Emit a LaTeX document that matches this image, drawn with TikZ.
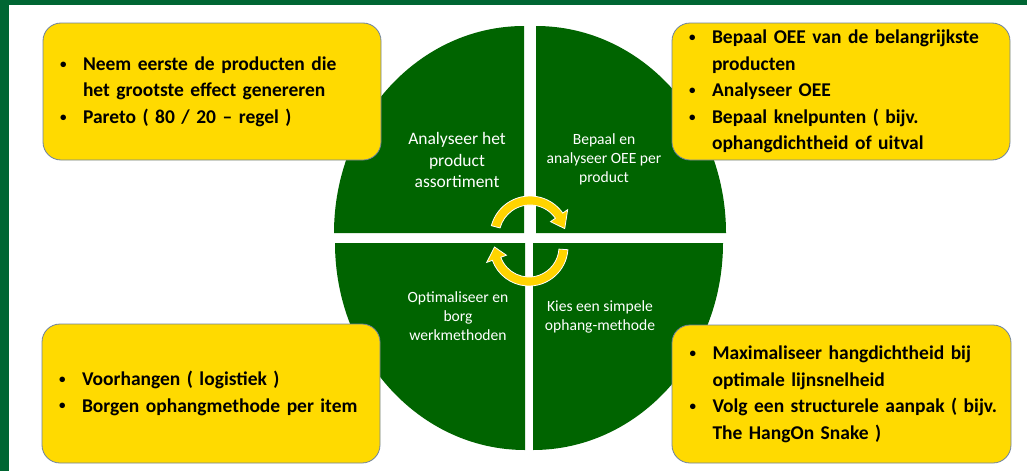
\documentclass[tikz,border=0pt]{standalone}
\usepackage{fontspec}
\setmainfont{Carlito}

\definecolor{framegreen}{RGB}{0,102,51}
\definecolor{quadgreen}{RGB}{0,100,0}
\definecolor{boxyellow}{RGB}{255,218,0}
\definecolor{arrowyellow}{RGB}{255,212,0}
\definecolor{boxline}{RGB}{110,130,160}

% small bullet with a hanging gap before the item text
\newcommand{\blt}{\makebox[23pt][l]{\raisebox{2.2pt}{\fontsize{13}{13}\selectfont\textbullet}}}

\tikzset{
  infobox/.style={draw=boxline, line width=0.8pt, fill=boxyellow, rounded corners=18pt,
    minimum width=338pt, minimum height=137pt, text width=304pt, align=left, inner sep=0pt,
    font=\fontsize{19.5}{26.5}\selectfont\bfseries},
  quadtext/.style={text=white, align=center, font=\fontsize{15.6}{19}\selectfont},
  quad/.style={fill=quadgreen},
  cyclearrow/.style={fill=arrowyellow, draw=white, line width=0.8pt}
}

\begin{document}
\begin{tikzpicture}[x=1pt,y=1pt,yscale=-1,xscale=1]
\useasboundingbox (0,0) rectangle (1027,471);

%Frame
\fill[framegreen] (0,0) rectangle (9,471);
\fill[framegreen] (0,0) rectangle (1027,5);

%Shape: Sector top left
\fill[quad] (524,233) -- ++(-190,0) arc[start angle=180, end angle=270, x radius=190, y radius=207] -- cycle;
%Shape: Sector top right
\fill[quad] (536,233) -- ++(0,-207) arc[start angle=270, end angle=360, x radius=190, y radius=207] -- cycle;
%Shape: Sector bottom right
\fill[quad] (533,243) -- ++(190,0) arc[start angle=0, end angle=90, x radius=190, y radius=207] -- cycle;
%Shape: Sector bottom left
\fill[quad] (525,243) -- ++(0,207) arc[start angle=90, end angle=180, x radius=190, y radius=207] -- cycle;

%Curved Arrow upper
\begin{scope}[shift={(530,236)}]
\filldraw[cyclearrow] (-165:40) arc[start angle=-165, end angle=-35, radius=40] -- (-35:46) -- (-12:35.5) -- (-35:25) -- (-35:31) arc[start angle=-35, end angle=-165, radius=31] -- cycle;
\end{scope}
%Curved Arrow lower
\begin{scope}[shift={(529,247)}]
\filldraw[cyclearrow] (4:39) arc[start angle=4, end angle=160, radius=39] -- (160:45) -- (180:34.5) -- (160:24) -- (160:30) arc[start angle=160, end angle=4, radius=30] -- cycle;
\end{scope}

% Text Node
\node[quadtext, font=\fontsize{17.5}{21.5}\selectfont] (assortiment) at (457,160) {Analyseer het\\product\\assortiment};
% Text Node
\node[quadtext] (oee) at (604,159) {Bepaal en\\analyseer OEE per\\product};
% Text Node
\node[quadtext] (borgen) at (458,316) {Optimaliseer en\\borg\\werkmethoden};
% Text Node
\node[quadtext] (ophang) at (600,317) {Kies een simpele\\ophang-methode};

% Info Boxes
\node[infobox] (pareto) at (212,91.5) {\begin{tabular}{@{}l@{}l@{}}
\blt & Neem eerste de producten die\\
 & het grootste effect genereren\\
\blt & Pareto ( 80 / 20 – regel )
\end{tabular}};
\node[infobox] (knelpunt) at (841,91.5) {\begin{tabular}{@{}l@{}l@{}}
\blt & Bepaal OEE van de belangrijkste\\
 & producten\\
\blt & Analyseer OEE\\
\blt & Bepaal knelpunten ( bijv.\\
 & ophangdichtheid of uitval
\end{tabular}};
\node[infobox, minimum height=139pt] (logistiek) at (211,393.5) {\begin{tabular}{@{}l@{}l@{}}
\blt & Voorhangen ( logistiek )\\
\blt & Borgen ophangmethode per item
\end{tabular}};
\node[infobox, minimum height=138pt, minimum width=339pt] (snake) at (841.5,394) {\begin{tabular}{@{}l@{}l@{}}
\blt & Maximaliseer hangdichtheid bij\\
 & optimale lijnsnelheid\\
\blt & Volg een structurele aanpak ( bijv.\\
 & The HangOn Snake )
\end{tabular}};

\end{tikzpicture}
\end{document}
